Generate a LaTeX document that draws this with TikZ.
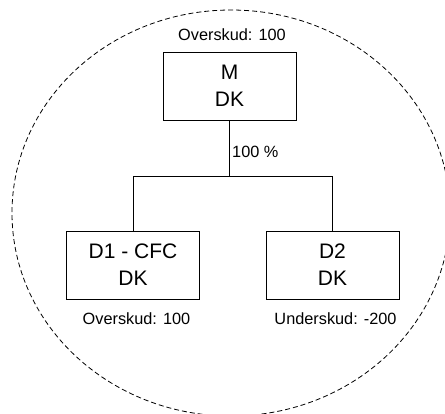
\documentclass[tikz,border=0pt]{standalone}
\usepackage{fontspec}
\setmainfont{Liberation Sans}
\begin{document}
\begin{tikzpicture}[x=1pt,y=-1pt,
  company/.style={draw, line width=0.9pt, minimum width=133pt, minimum height=68pt,
    inner sep=0pt, align=center, font=\fontsize{21}{27}\selectfont},
  result/.style={anchor=base, inner sep=0pt, font=\fontsize{16.3}{19}\selectfont},
  link/.style={line width=0.9pt},
  group/.style={dashed, dash pattern=on 5pt off 3pt, line width=0.8pt}]
  \useasboundingbox (0,0) rectangle (445,414);
  \clip (0,0) rectangle (445,414);

  % dashed ellipse around the group
  \draw[group] (231,213) ellipse [x radius=219, y radius=203];

  % companies
  \node[company] (M)  at (229.5,86) {M\\DK};
  \node[company] (D1) at (133,265)  {D1 - CFC\\DK};
  \node[company] (D2) at (332.5,265) {D2\\DK};

  % results
  \node[result] (rM)  at (232,41)  {Overskud: 100};
  \node[result] (rD1) at (136.5,325) {Overskud: 100};
  \node[result] (rD2) at (335.5,325) {Underskud: -200};

  % ownership lines
  \coordinate (J) at (229.5,176);
  \draw[link] (M.south) -- (J);
  \draw[link] (J) -| (D1.north);
  \draw[link] (J) -| (D2.north);
  \node[result, anchor=base west] (own) at (232,158) {100 \%};
\end{tikzpicture}
\end{document}
